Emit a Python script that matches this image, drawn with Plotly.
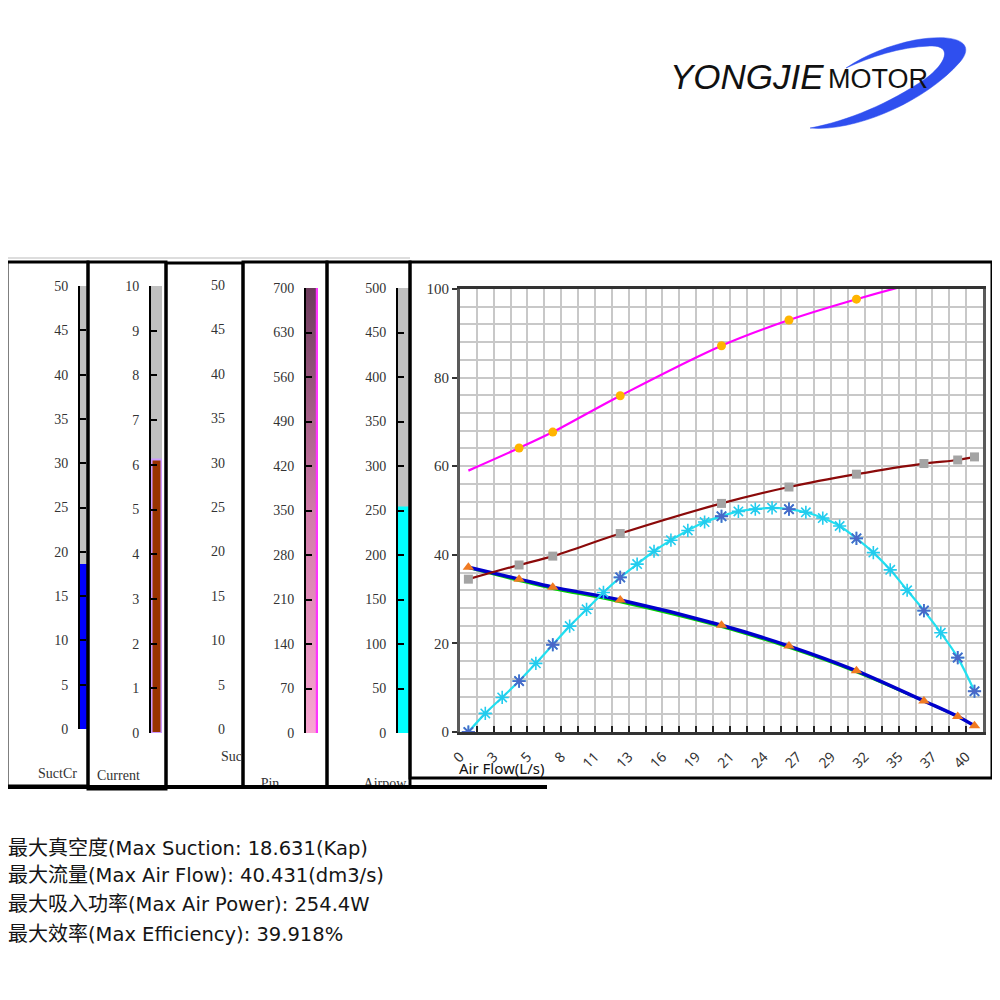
import plotly.graph_objects as go

# ---------------- data: main performance chart ----------------
FLOW_TICK_POS = [0.00, 2.70, 5.39, 8.09, 10.78, 13.48, 16.17, 18.87, 21.56,
                 24.26, 26.95, 29.65, 32.34, 35.04, 37.74, 40.43]
FLOW_TICK_TEXT = ["0", "3", "5", "8", "11", "13", "16", "19", "21",
                  "24", "27", "29", "32", "35", "37", "40"]
FLOW_GRID_STEP = 1.3477
FLOW_MAX = 41.78

# measured points (air flow, L/s)
FLOW_PTS = [0.67, 4.72, 7.41, 12.80, 20.89, 26.28, 31.67, 37.06, 39.76, 41.10]
PIN_CURVE = [59.0, 64.1, 67.7, 75.9, 87.2, 93.0, 97.7, 101.8, 103.5, 104.3]
CURRENT_CURVE = [34.5, 37.7, 39.7, 44.8, 51.6, 55.3, 58.2, 60.6, 61.4, 62.1]
SUCTION_CURVE = [37.2, 34.5, 32.7, 29.8, 24.1, 19.4, 13.8, 7.0, 3.5, 1.4]
SUCTION_FIT = [37.0, 34.1, 32.3, 29.3, 23.7, 19.0, 13.5, 6.9, 3.4, 1.4]

# air-power curve, dense points
FLOW_AIR = [0.67, 2.02, 3.37, 4.72, 6.06, 7.41, 8.76, 10.11, 11.46, 12.80,
            14.15, 15.50, 16.85, 18.20, 19.54, 20.89, 22.24, 23.59, 24.93,
            26.28, 27.63, 28.98, 30.33, 31.67, 33.02, 34.37, 35.72, 37.06,
            38.41, 39.76, 41.10]
AIRPOWER_CURVE = [0.0, 4.2, 7.8, 11.5, 15.5, 19.7, 23.9, 27.7, 31.5, 34.9,
                  37.9, 40.8, 43.3, 45.5, 47.4, 48.7, 49.8, 50.3, 50.6, 50.3,
                  49.6, 48.3, 46.5, 43.7, 40.5, 36.6, 32.0, 27.4, 22.4, 16.8, 9.2]
AIR_MEASURED_IDX = [0, 3, 5, 9, 15, 19, 23, 27, 29, 30]

# ---------------- data: gauges ----------------
GAUGE_LABELS = ["SuctCr", "Current", "Suction", "Pin", "Airpow"]
GAUGE_MAX = [50, 10, 50, 700, 500]
GAUGE_STEP = [5, 1, 5, 70, 50]
SUCT_VALUE = 18.631
CURRENT_VALUE = 6.12
PIN_VALUE = 700
AIRPOW_VALUE = 254.4

SUMMARY_LINES = [
    ("最大真空度", "(Max Suction: 18.631(Kap)"),
    ("最大流量", "(Max Air Flow): 40.431(dm3/s)"),
    ("最大吸入功率", "(Max Air Power): 254.4W"),
    ("最大效率", "(Max Efficiency): 39.918%"),
]

SERIF = "Liberation Serif"

# page body has an 8px margin: figure is 992 wide, placed at (8, 8)
OFF = 8.0
SIZE = 992.0


def px(x):
    return (x - OFF) / SIZE


def py(y):
    return 1 - (y - OFF) / SIZE


fig = go.Figure()

# ---------------- main chart traces ----------------
fig.add_trace(go.Scatter(x=FLOW_PTS, y=SUCTION_FIT, mode="lines", line=dict(color="#00D000", width=2, shape="spline"),
                         xaxis="x", yaxis="y", showlegend=False))
fig.add_trace(go.Scatter(x=FLOW_PTS, y=SUCTION_CURVE, mode="lines", line=dict(color="#0000CC", width=3.5, shape="spline"),
                         xaxis="x", yaxis="y", showlegend=False))
fig.add_trace(go.Scatter(x=FLOW_PTS, y=CURRENT_CURVE, mode="lines", line=dict(color="#8B0A0A", width=2.2, shape="spline"),
                         xaxis="x", yaxis="y", showlegend=False))
fig.add_trace(go.Scatter(x=FLOW_PTS, y=PIN_CURVE, mode="lines", line=dict(color="#FF00FF", width=2.2, shape="spline"),
                         xaxis="x", yaxis="y", showlegend=False))
fig.add_trace(go.Scatter(x=FLOW_AIR, y=AIRPOWER_CURVE, mode="lines+markers",
                         line=dict(color="#22E0F0", width=2.2, shape="spline"),
                         marker=dict(symbol="asterisk-open", size=11, color="#22CCEE",
                                     line=dict(color="#22CCEE", width=1.6)),
                         xaxis="x", yaxis="y", showlegend=False))
fig.add_trace(go.Scatter(x=[FLOW_AIR[i] for i in AIR_MEASURED_IDX], y=[AIRPOWER_CURVE[i] for i in AIR_MEASURED_IDX],
                         mode="markers",
                         marker=dict(symbol="asterisk-open", size=11, color="#4A68C8",
                                     line=dict(color="#4A68C8", width=1.8)),
                         xaxis="x", yaxis="y", showlegend=False))
fig.add_trace(go.Scatter(x=FLOW_PTS, y=CURRENT_CURVE, mode="markers",
                         marker=dict(symbol="square", size=9, color="#A4A4A4"),
                         xaxis="x", yaxis="y", showlegend=False))
fig.add_trace(go.Scatter(x=FLOW_PTS[1:], y=PIN_CURVE[1:], mode="markers",
                         marker=dict(symbol="circle", size=9, color="#FFB400"),
                         xaxis="x", yaxis="y", showlegend=False))
fig.add_trace(go.Scatter(x=FLOW_PTS, y=SUCTION_CURVE, mode="markers",
                         marker=dict(symbol="triangle-up", size=10, color="#F07A22"),
                         xaxis="x", yaxis="y", showlegend=False))

# ---------------- gauges ----------------
fig.add_trace(go.Bar(x=[0.5], y=[GAUGE_MAX[0]], width=[1], marker=dict(color="#C0C0C0", line=dict(width=0)),
                     xaxis="x2", yaxis="y2", showlegend=False))
fig.add_trace(go.Bar(x=[0.5], y=[SUCT_VALUE], width=[1], marker=dict(color="#0000FF", line=dict(width=0)),
                     xaxis="x2", yaxis="y2", showlegend=False))
fig.add_trace(go.Bar(x=[0.5], y=[GAUGE_MAX[1]], width=[1], marker=dict(color="#C0C0C0", line=dict(width=0)),
                     xaxis="x3", yaxis="y3", showlegend=False))
fig.add_trace(go.Bar(x=[0.5], y=[CURRENT_VALUE], width=[0.9], marker=dict(color="#993300", line=dict(color="#CC99FF", width=2)),
                     xaxis="x3", yaxis="y3", showlegend=False))
fig.add_trace(go.Scatter(x=[], y=[], xaxis="x4", yaxis="y4", showlegend=False))
fig.add_trace(go.Scatter(x=[0, 0.85, 0.85, 0, 0], y=[0, 0, PIN_VALUE, PIN_VALUE, 0], mode="lines", fill="toself",
                         line=dict(color="rgba(0,0,0,0)", width=0),
                         fillgradient=dict(type="vertical", start=0, stop=GAUGE_MAX[3],
                                           colorscale=[[0, "#F9A6D2"], [0.5, "#D07AA8"], [1, "#6B3B5B"]]),
                         xaxis="x5", yaxis="y5", showlegend=False))
fig.add_trace(go.Scatter(x=[0.92, 0.92], y=[0, PIN_VALUE], mode="lines", line=dict(color="#FF33FF", width=2.5),
                         xaxis="x5", yaxis="y5", showlegend=False))
fig.add_trace(go.Bar(x=[0.5], y=[GAUGE_MAX[4]], width=[1], marker=dict(color="#C0C0C0", line=dict(width=0)),
                     xaxis="x6", yaxis="y6", showlegend=False))
fig.add_trace(go.Bar(x=[0.5], y=[AIRPOW_VALUE], width=[1], marker=dict(color="#00FFFF", line=dict(width=0)),
                     xaxis="x6", yaxis="y6", showlegend=False))

# clipped gauge captions (page-pixel helper axes)
fig.add_trace(go.Scatter(x=[270, 385], y=[784, 784], mode="text", text=[GAUGE_LABELS[3], GAUGE_LABELS[4]],
                         textfont=dict(family=SERIF, size=14, color="#333"), cliponaxis=True,
                         xaxis="x7", yaxis="y7", showlegend=False))
fig.add_trace(go.Scatter(x=[221], y=[757], mode="text", text=[GAUGE_LABELS[2]], textposition="middle right",
                         textfont=dict(family=SERIF, size=14, color="#333"), cliponaxis=True,
                         xaxis="x8", yaxis="y8", showlegend=False))

grid = "#C8C8C8"
layout = dict(
    template="none",
    width=int(SIZE), height=int(SIZE), margin=dict(l=0, r=0, t=0, b=0, pad=0), autosize=False,
    paper_bgcolor="white", plot_bgcolor="rgba(0,0,0,0)",
    barmode="overlay", showlegend=False,
    xaxis=dict(domain=[px(460), px(983)], range=[0, FLOW_MAX], anchor="y", automargin=False,
               tickmode="array", tickvals=FLOW_TICK_POS, ticktext=FLOW_TICK_TEXT, tickangle=-45,
               ticks="inside", ticklen=6, tickwidth=1.5, tickcolor="#222", ticklabelstandoff=8,
               showgrid=True, gridcolor=grid, gridwidth=1.5,
               minor=dict(tickmode="linear", tick0=0, dtick=FLOW_GRID_STEP, ticks="inside", ticklen=6,
                          tickwidth=1.5, tickcolor="#222", showgrid=True, gridcolor=grid, gridwidth=1.5),
               showline=True, linecolor="#333", linewidth=3, mirror=True, zeroline=False,
               tickfont=dict(family="Noto Sans", size=14, color="#333")),
    yaxis=dict(domain=[py(732), py(289)], range=[0, 100], anchor="x", dtick=20, tick0=0, automargin=False,
               ticks="outside", ticklen=5, tickwidth=1.5, tickcolor="#333",
               showgrid=True, gridcolor=grid, gridwidth=1.5,
               minor=dict(dtick=4, tick0=0, showgrid=True, gridcolor=grid, gridwidth=1.5),
               showline=True, linecolor="#5A5A5A", linewidth=3, mirror=True, zeroline=False,
               tickfont=dict(family=SERIF, size=15, color="#333")),
)

gauge_x = [(80, 88), (151, 162), (238, 243), (306, 318), (398, 410)]
gauge_y = [(729, 286), (733, 286), (729, 285), (733, 288), (733, 288)]
gauge_axis_visible = [True, True, False, True, True]
for i in range(5):
    k = i + 2
    vis = gauge_axis_visible[i]
    layout[f"xaxis{k}"] = dict(domain=[px(gauge_x[i][0]), px(gauge_x[i][1])], range=[0, 1], visible=False,
                               anchor=f"y{k}", fixedrange=True, automargin=False)
    layout[f"yaxis{k}"] = dict(domain=[py(gauge_y[i][0]), py(gauge_y[i][1])], range=[0, GAUGE_MAX[i]],
                               anchor=f"x{k}", dtick=GAUGE_STEP[i], tick0=0, automargin=False,
                               ticks="inside" if vis else "", ticklen=6, tickwidth=2, tickcolor="black",
                               showline=vis, linecolor="black", linewidth=2, showgrid=False, zeroline=False,
                               ticklabelstandoff=7 if vis else 12,
                               tickfont=dict(family=SERIF, size=14, color="#333"), fixedrange=True)

layout["xaxis7"] = dict(domain=[0, 1], range=[OFF, OFF + SIZE], visible=False, anchor="y7", automargin=False)
layout["yaxis7"] = dict(domain=[py(787), 1], range=[787, OFF], visible=False, anchor="x7", automargin=False)
layout["xaxis8"] = dict(domain=[0, px(241)], range=[OFF, 241], visible=False, anchor="y8", automargin=False)
layout["yaxis8"] = dict(domain=[0, 1], range=[OFF + SIZE, OFF], visible=False, anchor="x8", automargin=False)

fig.update_layout(**layout)


def rect(x0, y0, x1, y1, color="black", w=3):
    return dict(type="rect", xref="paper", yref="paper", x0=px(x0), x1=px(x1), y0=py(y1), y1=py(y0),
                line=dict(color=color, width=w), fillcolor="rgba(0,0,0,0)", layer="above")


def seg(x0, y0, x1, y1, color="black", w=3):
    return dict(type="line", xref="paper", yref="paper", x0=px(x0), x1=px(x1), y0=py(y0), y1=py(y1),
                line=dict(color=color, width=w), layer="above")


def pathstr(cmds):
    out = []
    for c in cmds:
        if isinstance(c, str):
            out.append(c)
        else:
            out.append(f"{px(c[0]):.4f},{py(c[1]):.4f}")
    return " ".join(out)


swoosh = pathstr(["M", (810, 128),
                  "C", (855, 132), (925, 102), (960, 62),
                  "C", (977, 42), (955, 33), (915, 40),
                  "C", (890, 45), (865, 55), (846, 68),
                  "C", (870, 57), (900, 47), (930, 46),
                  "C", (952, 45), (948, 62), (925, 79),
                  "C", (890, 103), (848, 121), (810, 128), "Z"])

shapes = [
    seg(3, 258, 410, 258, "#BBBBBB", 1), seg(3, 258, 3, 792, "#BBBBBB", 1),
    rect(7, 262, 88, 786), rect(88, 262, 166, 789), rect(166, 263, 243, 787),
    rect(243, 262, 327, 787), rect(327, 262, 410, 787), rect(410, 262, 992, 778),
    seg(3, 787, 547, 787, "black", 4),
    dict(type="path", xref="paper", yref="paper", path=swoosh, fillcolor="#2F4FEF",
         line=dict(color="#2F4FEF", width=0.5), layer="above"),
]
fig.update_layout(shapes=shapes)


def ann(text, x, y, size, family, xanchor="center", color="#333"):
    return dict(text=text, x=px(x), y=py(y), xref="paper", yref="paper", showarrow=False,
                xanchor=xanchor, yanchor="middle", font=dict(family=family, size=size, color=color))


annotations = [
    ann(GAUGE_LABELS[0], 57, 773, 14, SERIF),
    ann(GAUGE_LABELS[1], 95, 775, 14, SERIF, "left"),
    ann("Air Flow(L/s)", 457, 768, 15, "Noto Sans", "left", "#111"),
    ann("<i>YONGJIE</i>", 668, 76, 35, "Liberation Sans", "left", "#111"),
    ann("MOTOR", 826, 79, 27, "Liberation Sans", "left", "#111"),
]
line_y = [846, 873, 902, 932]
for (cn, en), yy in zip(SUMMARY_LINES, line_y):
    annotations.append(ann(f"<span style='font-family:Noto Sans CJK SC;font-size:20px'>{cn}</span>{en}",
                           6, yy, 19.5, "DejaVu Sans, Noto Sans CJK SC", "left", "#151515"))
fig.update_layout(annotations=annotations)

fig.write_html("out.html")
